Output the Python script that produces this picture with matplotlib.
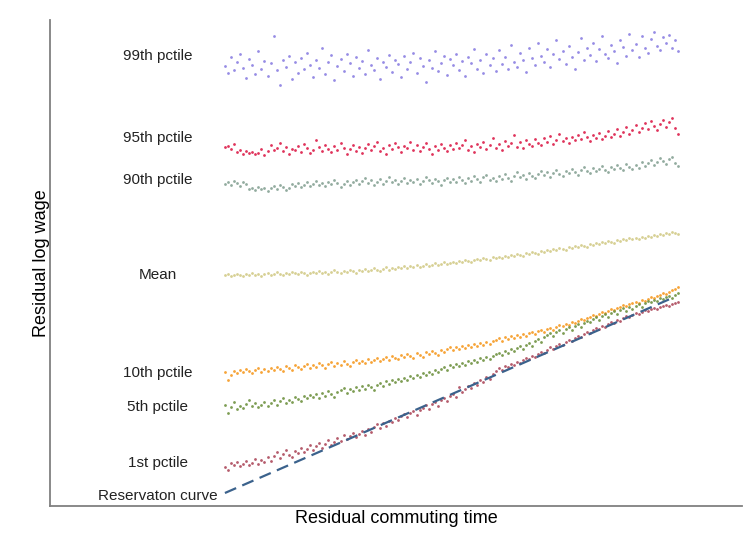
import numpy as np
import matplotlib
matplotlib.use('Agg')
import matplotlib.pyplot as plt

plt.rcParams['font.family'] = ['Liberation Sans', 'DejaVu Sans']

# residual commuting time (binned), one value per point
commute = np.linspace(0, 1, 150)

# residual log wage by percentile (scaled units)
p99 = [440, 433, 449, 436, 444, 452, 438, 428, 447, 441, 432, 455, 437, 445, 430,
       443, 470, 436, 421, 446, 439, 450, 427, 444, 433, 448, 437, 453, 441, 429,
       446, 438, 458, 432, 444, 451, 426, 440, 447, 435, 452, 443, 430, 449, 438,
       445, 432, 456, 441, 436, 448, 427, 444, 439, 451, 434, 446, 442, 429, 450,
       437, 444, 453, 433, 448, 440, 424, 446, 438, 455, 435, 443, 450, 431, 447,
       441, 452, 436, 445, 430, 449, 443, 457, 437, 446, 433, 452, 441, 448, 435,
       456, 442, 449, 437, 461, 444, 439, 453, 446, 434, 458, 448, 441, 463, 450,
       444, 457, 439, 452, 466, 447, 455, 442, 460, 449, 437, 454, 468, 446, 458,
       451, 463, 445, 457, 470, 452, 448, 461, 455, 443, 466, 459, 450, 472, 456,
       462, 449, 470, 458, 453, 467, 474, 460, 456, 469, 463, 471, 458, 466, 455]

p95 = [359, 360, 357, 362, 354, 356, 352, 355, 353, 354, 352, 353, 357, 351, 355,
       361, 356, 358, 363, 355, 359, 352, 357, 356, 360, 354, 362, 358, 353, 356,
       366, 359, 355, 361, 357, 354, 360, 356, 363, 358, 352, 357, 361, 355, 359,
       353, 358, 362, 356, 360, 364, 355, 358, 352, 361, 357, 363, 359, 354, 360,
       358, 364, 356, 361, 355, 359, 363, 357, 352, 360, 356, 362, 358, 355, 361,
       357, 363, 358, 361, 366, 356, 360, 354, 362, 359, 364, 357, 361, 368, 358,
       362, 356, 365, 360, 363, 371, 359, 364, 358, 366, 362, 360, 367, 363, 361,
       368, 364, 370, 362, 366, 372, 365, 368, 363, 369, 366, 371, 367, 374, 369,
       365, 371, 368, 373, 367, 370, 375, 369, 372, 377, 370, 374, 379, 372, 376,
       381, 374, 378, 383, 377, 385, 380, 376, 382, 386, 379, 384, 388, 378, 372]

p90 = [322, 324, 321, 325, 323, 320, 324, 322, 317, 318, 316, 319, 317, 318, 315,
       318, 320, 317, 321, 319, 316, 318, 322, 320, 323, 319, 321, 324, 320, 322,
       325, 321, 323, 320, 324, 322, 326, 323, 319, 322, 325, 321, 324, 326, 322,
       325, 328, 323, 326, 321, 324, 327, 322, 325, 329, 324, 326, 322, 325, 328,
       323, 326, 324, 327, 322, 325, 329, 326, 323, 327, 325, 321, 326, 328, 324,
       327, 324, 329, 326, 323, 328, 325, 330, 327, 324, 329, 331, 326, 328, 325,
       330, 327, 332, 328, 325, 330, 334, 329, 331, 327, 333, 330, 328, 332, 335,
       331, 334, 329, 333, 336, 332, 330, 335, 333, 337, 334, 331, 336, 339, 335,
       333, 338, 335, 337, 340, 336, 334, 339, 337, 341, 338, 336, 342, 339, 337,
       341, 338, 344, 340, 343, 346, 341, 344, 348, 345, 342, 347, 349, 343, 340]

mean = [231, 232, 230, 231, 232, 231, 230, 232, 231, 233, 231, 232, 230, 232, 233,
        231, 232, 234, 232, 231, 233, 232, 234, 233, 232, 234, 233, 231, 233, 234,
        233, 235, 233, 234, 232, 234, 236, 234, 233, 235, 234, 236, 235, 233, 236,
        235, 237, 235, 236, 238, 236, 235, 237, 239, 236, 238, 237, 239, 238, 240,
        238, 240, 239, 241, 239, 240, 242, 240, 241, 243, 241, 242, 244, 242, 243,
        244, 243, 245, 244, 246, 245, 244, 246, 247, 246, 248, 247, 246, 249, 248,
        249, 248, 250, 249, 251, 250, 252, 251, 250, 253, 252, 254, 253, 252, 255,
        254, 256, 255, 257, 256, 258, 257, 256, 259, 258, 260, 259, 261, 260, 259,
        262, 261, 263, 262, 264, 263, 265, 264, 263, 266, 265, 267, 266, 268, 267,
        268, 267, 269, 268, 270, 269, 271, 270, 272, 271, 273, 272, 274, 273, 272]

p10 = [134, 126, 131, 135, 133, 136, 134, 137, 135, 133, 136, 138, 134, 137, 135,
       138, 136, 139, 137, 135, 140, 138, 136, 141, 139, 137, 140, 142, 138, 141,
       139, 143, 141, 138, 142, 144, 140, 143, 141, 145, 142, 140, 144, 146, 143,
       145, 143, 147, 144, 146, 148, 145, 147, 149, 146, 150, 148, 147, 151, 149,
       152, 150, 148, 153, 151, 149, 154, 152, 155, 153, 151, 156, 154, 157, 159,
       156, 159, 157, 160, 158, 161, 159, 162, 160, 163, 161, 164, 162, 165, 166,
       168, 165, 169, 167, 170, 168, 171, 169, 172, 170, 173, 174, 172, 175, 176,
       174, 177, 178, 176, 179, 181, 180, 182, 181, 184, 183, 185, 187, 186, 188,
       189, 191, 190, 192, 194, 193, 195, 197, 196, 198, 199, 201, 200, 202, 203,
       204, 203, 206, 205, 207, 209, 208, 210, 211, 213, 212, 214, 216, 217, 219]

p5 = [101, 93, 99, 104, 97, 100, 98, 102, 106, 100, 103, 99, 101, 104, 100,
      103, 106, 101, 105, 108, 103, 106, 104, 109, 107, 105, 110, 108, 111, 109,
      112, 108, 113, 110, 115, 112, 109, 114, 116, 118, 113, 117, 115, 119, 116,
      120, 117, 121, 119, 116, 121, 123, 120, 125, 122, 126, 124, 127, 125, 128,
      126, 130, 128, 131, 129, 133, 131, 134, 132, 136, 134, 137, 139, 136, 141,
      139, 142, 140, 143, 141, 145, 143, 146, 144, 148, 146, 149, 147, 150, 152,
      153, 151, 155, 153, 157, 155, 158, 160, 157, 161, 163, 160, 165, 167, 164,
      169, 171, 173, 170, 174, 176, 173, 177, 179, 176, 180, 182, 179, 183, 185,
      184, 187, 189, 186, 190, 192, 189, 193, 195, 192, 196, 198, 195, 199, 197,
      200, 202, 199, 203, 205, 204, 206, 205, 208, 207, 209, 210, 208, 211, 213]

p1 = [39, 36, 43, 41, 44, 40, 42, 45, 41, 43, 47, 42, 46, 44, 49,
      45, 50, 54, 48, 52, 56, 51, 49, 55, 53, 58, 54, 57, 61, 56,
      60, 63, 58, 62, 66, 61, 64, 68, 65, 71, 67, 70, 73, 69, 72,
      75, 71, 77, 74, 79, 82, 78, 83, 80, 85, 84, 88, 86, 90, 92,
      89, 93, 95, 91, 96, 98, 101, 97, 102, 104, 100, 106, 108, 105, 110,
      112, 109, 119, 114, 117, 120, 118, 123, 121, 126, 124, 129, 127, 132, 135,
      138, 136, 140, 139, 142, 141, 144, 143, 146, 148, 147, 150, 149, 152, 154,
      153, 156, 159, 157, 160, 162, 161, 164, 166, 165, 168, 170, 169, 172, 174,
      173, 176, 178, 177, 180, 179, 182, 184, 183, 186, 185, 188, 190, 189, 191,
      193, 192, 194, 196, 195, 197, 198, 197, 199, 200, 201, 200, 202, 203, 204]

# reservation curve end points
res_x = [0.0, 0.987]
res_y = [13, 208]

series = [p99, p95, p90, mean, p10, p5, p1]
names = ['99th pctile', '95th pctile', '90th pctile', 'Mean',
         '10th pctile', '5th pctile', '1st pctile']
colors = ['#8c80e2', '#dc1e4a', '#86a295', '#d2cb88',
          '#f59a22', '#6f9240', '#ad4a5c']
# where each label sits on the y axis
label_y = [450, 368, 326, 231, 133, 99, 43]


def plot_chart(filename):
    fig = plt.figure(figsize=(7.51, 5.5), dpi=100)
    ax = fig.add_axes([50 / 751, 44 / 550, 692 / 751, 486 / 550])

    for y, name, c, ly in zip(series, names, colors, label_y):
        ax.scatter(commute, y, s=4, color=c, linewidths=0, alpha=0.9)
        ax.text(-0.148, ly, name, ha='center', va='center',
                fontsize=11, color='#222222')

    ax.plot(res_x, res_y, color='#3b628c', lw=1.6, dashes=(5.5, 3))
    ax.text(-0.148, 10, 'Reservaton curve', ha='center', va='center',
            fontsize=11, color='#222222')

    ax.set_xlim(-0.386, 1.141)
    ax.set_ylim(0, 486)
    ax.set_xticks([])
    ax.set_yticks([])
    for side in ['top', 'right']:
        ax.spines[side].set_visible(False)
    for side in ['left', 'bottom']:
        ax.spines[side].set_color('#808080')
        ax.spines[side].set_linewidth(1.3)

    ax.set_xlabel('Residual commuting time', fontsize=13, labelpad=3)
    ax.set_ylabel('Residual log wage', fontsize=13, labelpad=0)

    fig.savefig(filename, dpi=100)
    plt.close(fig)


if __name__ == '__main__':
    plot_chart('out.png')
